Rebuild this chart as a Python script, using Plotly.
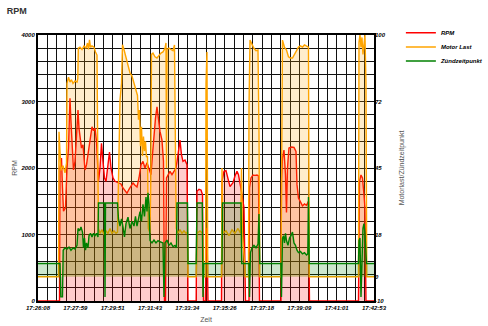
import plotly.graph_objects as go

# ---- tick labels ----
x_tick_secs = [0, 111.6, 223.2, 334.8, 446.4, 558.0, 669.6, 781.2, 892.8, 1004.4]
x_tick_text = ["17:26:08", "17:27:59", "17:29:51", "17:31:43", "17:33:34",
               "17:35:26", "17:37:18", "17:39:09", "17:41:01", "17:42:53"]
rpm_ticks = [0, 1000, 2000, 3000, 4000]
right_tick_vals = [-10, 0, 17.5, 45, 72.5, 100]
right_tick_text = ["-10", "0", "18", "45", "72", "100"]

# ---- RPM (seconds since 17:26:08, rpm) ----
t_rpm = [0, 64.3, 65.8, 70.2, 73.2, 76.2, 82.2, 86.7, 91.2, 95.6, 98.6, 101.6, 106.1, 110.6,
         115.1, 119.6, 122.5, 125.5, 130.0, 134.5, 137.5, 140.5, 145.0, 149.5, 155.4, 161.4,
         165.9, 170.4, 174.9, 177.8, 180.8, 185.3, 189.8, 194.3, 198.8, 203.3, 209.2, 213.7,
         218.2, 224.2, 230.2, 236.1, 242.1, 248.1, 254.1, 260.0, 266.0, 272.0, 278.0, 284.0,
         289.9, 295.9, 301.9, 307.9, 313.8, 319.8, 325.8, 331.8, 337.8, 342.2, 346.7, 351.2,
         355.7, 360.2, 364.7, 370.6, 375.1, 378.1, 381.1, 384.1, 388.6, 394.5, 400.5, 406.5,
         412.5, 418.5, 424.4, 428.9, 433.4, 439.4, 445.4, 448.4, 472.8, 475.3, 481.2, 487.2,
         491.7, 494.7, 500.7, 502.2, 505.1, 508.1, 548.5, 550.0, 556.0, 562.0, 567.9, 573.9,
         578.4, 582.9, 588.8, 594.8, 599.3, 603.8, 609.8, 615.8, 620.2, 630.7, 632.2, 636.7,
         642.6, 648.6, 654.6, 659.1, 662.1, 726.3, 727.8, 730.8, 735.3, 739.8, 742.8, 745.8,
         750.2, 757.7, 765.2, 771.2, 774.2, 778.6, 784.6, 790.6, 796.6, 802.6, 808.5, 811.5,
         958.0, 961.0, 965.5, 970.0, 974.4, 977.4, 980.4, 1004.4]
rpm = [0, 0, 2000, 2150, 1700, 1350, 1400, 2000, 2300, 3050, 2700, 2400, 1970, 2100,
       2500, 2870, 2600, 2450, 2300, 2350, 2100, 1970, 2050, 2200, 2450, 2620,
       2560, 2600, 2400, 2100, 1800, 2000, 2370, 2100, 1850, 1800, 2100, 2240,
       2000, 1850, 1800, 1790, 1780, 1760, 1700, 1650, 1620, 1680, 1740, 1775,
       1740, 1715, 1850, 2050, 2100, 2000, 2080, 2000, 1900, 2200, 2500, 2750,
       2920, 2750, 2550, 2420, 2100, 0, 0, 1850, 1900, 1950, 1900, 1950,
       2000, 2200, 2420, 2200, 2100, 2120, 2050, 0, 0, 1650, 1680, 1670,
       1600, 0, 0, 900, 1100, 0, 0, 1800, 1950, 1960, 1850, 1720,
       1750, 1780, 1880, 1950, 1900, 1780, 1600, 1400, 0, 0, 1700, 1850,
       1895, 1890, 1895, 1880, 0, 0, 1800, 2150, 2270, 1900, 1330, 2000,
       2300, 2316, 2310, 2250, 1750, 1550, 1480, 1430, 1460, 1440, 1500, 0,
       0, 1800, 1895, 1850, 1600, 1400, 0, 0]

# ---- Motor Last (%) ----
t_load = [0, 61.3, 62.8, 65.8, 68.7, 74.7, 80.7, 85.2, 86.7, 91.2, 95.6, 100.1, 104.6, 110.6,
          116.6, 119.0, 120.5, 125.5, 131.5, 137.5, 143.5, 148.0, 150.9, 153.9, 156.9, 161.4,
          167.4, 171.9, 176.4, 178.7, 180.8, 185.3, 191.3, 197.3, 203.3, 209.2, 215.2, 221.2,
          227.2, 233.1, 237.6, 240.6, 245.1, 249.6, 252.6, 257.0, 263.0, 269.0, 275.0, 281.0,
          286.9, 292.9, 297.4, 300.4, 303.4, 306.4, 309.4, 312.3, 315.3, 318.3, 321.3, 324.3,
          327.3, 329.7, 334.8, 337.2, 339.2, 343.7, 349.7, 355.7, 361.7, 367.6, 373.6, 379.6,
          382.6, 384.1, 385.6, 391.5, 397.5, 403.5, 408.0, 411.0, 413.1, 418.5, 424.4, 430.4,
          436.4, 442.4, 446.9, 448.4, 472.8, 475.3, 484.2, 491.7, 494.7, 500.7, 502.2, 505.1,
          507.5, 548.5, 550.0, 553.0, 562.0, 570.9, 579.9, 588.8, 597.8, 605.3, 608.3, 611.3,
          620.2, 629.2, 630.7, 633.7, 639.6, 645.6, 651.6, 657.6, 660.6, 663.0, 726.3, 727.8,
          730.8, 736.8, 742.8, 748.7, 754.7, 760.7, 766.7, 772.6, 778.6, 784.6, 790.6, 796.6,
          802.6, 808.5, 810.9, 958.0, 959.5, 962.5, 965.5, 968.4, 971.4, 974.4, 977.4, 980.4,
          982.8, 1004.4]
load = [0, 0, 60, 48, 44, 46, 43, 47, 80, 82.6, 80.5, 81.5, 80, 81,
        80.5, 82, 94.6, 95, 94, 95.5, 94.5, 96.7, 94, 98, 95, 95.5,
        95, 93, 91.7, 50, 20, 18, 19.5, 17.5, 19, 18, 20, 18,
        19, 18, 18.5, 40, 73, 80, 96, 94, 91, 88, 84.3, 83,
        80, 77, 75, 65, 69, 54, 62, 50, 58, 52, 56, 49.5,
        50, 20, 18, 40, 92, 92.5, 91, 90.5, 91.5, 92.5, 93, 94.5,
        96.7, 45, 94, 94.6, 94, 93.5, 95.9, 60, 20, 18, 19.5, 18,
        19, 18, 18.5, 0, 0, 18, 19, 18, 0, 0, 80, 93,
        0, 0, 45, 18, 19, 17, 19.5, 18, 20, 18, 45, 18,
        0, 0, 70, 97.9, 96, 94.5, 93.5, 93.8, 60, 0, 0, 64.8,
        97.9, 95, 93.8, 91, 90.5, 90.5, 92, 94, 95, 95.5, 95, 95.9,
        95.5, 95, 0, 0, 97, 100, 95, 99, 92, 96, 100, 80,
        0, 0]

# ---- Zündzeitpunkt ----
t_ign = [0, 65.8, 68.2, 73.2, 75.3, 80.7, 86.7, 92.7, 98.6, 104.6, 110.6, 116.6, 119.6, 124.0,
         128.5, 133.0, 136.0, 139.0, 142.0, 145.0, 149.5, 152.4, 156.9, 161.4, 165.9, 170.4,
         174.9, 179.3, 180.8, 198.8, 200.3, 201.8, 237.6, 240.6, 245.1, 249.6, 254.1, 258.5,
         263.0, 269.0, 275.0, 281.0, 286.9, 291.4, 295.9, 300.4, 304.9, 309.4, 313.8, 318.3,
         322.8, 325.8, 328.8, 331.8, 334.8, 340.7, 346.7, 352.7, 358.7, 364.7, 373.6, 376.6,
         379.6, 385.6, 391.5, 397.5, 403.5, 409.5, 414.0, 415.5, 446.9, 448.4, 472.8, 475.3,
         491.1, 493.2, 495.6, 550.0, 551.5, 606.8, 609.0, 630.7, 632.2, 635.2, 639.6, 645.6,
         651.6, 657.6, 660.6, 663.0, 726.3, 727.8, 730.8, 733.8, 736.8, 739.8, 742.8, 747.2,
         751.7, 756.2, 760.7, 765.2, 769.7, 774.2, 778.6, 784.6, 790.6, 796.6, 802.6, 806.5,
         808.5, 810.9, 958.0, 959.5, 962.5, 965.5, 968.4, 971.4, 974.4, 977.4, 981.9, 1004.4]
ign = [5.5, 5.5, -8.3, -8.3, 11, 12, 11.5, 12.3, 11, 12, 11.5, 13, 20, 19,
       20.6, 18.5, 12, 16, 11, 14, 12, 17, 18, 16.5, 18, 17,
       18, 16.5, 30.5, 30.5, -8.3, 30.5, 30.5, 24, 21, 24, 20.6, 16.5,
       22, 24.7, 20, 23, 21, 25, 21, 24, 27, 23, 30, 25,
       33, 27, 34.7, 30, 15, 14, 15.2, 14, 15, 14.5, 14, -8.3,
       14, 15.2, 13, 14, 12.5, 13, 12, 30.5, 30.5, 5.5, 5.5, 30.5,
       30.5, -8.3, 5.5, 5.5, 30.5, 30.5, 5.5, 5.5, -8.3, 10, 12, 13,
       12, 13.5, 26, 5.5, 5.5, -8.3, 16, 17, 14, 18, 15, 13,
       16, 17, 18.5, 14, 13, 11, 10, 10.5, 9.5, 10, 9, 9.5,
       33, 5.5, 5.5, 15, 16, -8.3, 14, 20, 22, 18, 5.5, 5.5]

series_names = ["RPM", "Motor Last", "Zündzeitpunkt"]
series_colors = ["#ff0000", "#ffa500", "#008000"]
fill_colors = ["rgba(255,0,0,0.2)", "rgba(255,165,0,0.2)", "rgba(0,128,0,0.2)"]

tick_font = dict(family="Liberation Sans, Arial", size=6,
                 color="black", weight="bold", style="italic")
title_font = dict(family="Liberation Sans, Arial", size=7, color="#555")
legend_font = dict(family="Liberation Sans, Arial", size=6,
                   color="black", weight="bold", style="italic")
GRID = "#111111"

fig = go.Figure()
data = [(t_rpm, rpm, "y"), (t_load, load, "y2"), (t_ign, ign, "y2")]
for (tx, vy, ax), nm, col, fc in zip(data, series_names, series_colors, fill_colors):
    fig.add_trace(go.Scatter(x=tx, y=vy, name=nm, mode="lines", showlegend=False,
                             line=dict(color=col, width=1.4),
                             fill="tozeroy", fillcolor=fc, yaxis=ax))
# legend entries (line only), one small legend per series for tight spacing
legend_ids = ["legend", "legend2", "legend3"]
for nm, col, lid in zip(series_names, series_colors, legend_ids):
    fig.add_trace(go.Scatter(x=[None], y=[None], name=nm, mode="lines",
                             line=dict(color=col, width=1.5), showlegend=True, legend=lid))

legend_rows_y = [1.008, 0.955, 0.902]
legend_common = dict(x=1.08, xanchor="left", yanchor="middle", bgcolor="rgba(0,0,0,0)",
                     borderwidth=0, font=legend_font, itemwidth=30)

fig.update_layout(
    width=488, height=326,
    margin=dict(l=38, r=114, t=35, b=25, autoexpand=False),
    paper_bgcolor="white", plot_bgcolor="white",
    title=dict(text="RPM", x=0.014, xref="container", y=0.966, yref="container",
               xanchor="left", yanchor="middle",
               font=dict(family="Liberation Sans, Arial", size=9, color="#333", weight="bold")),
    xaxis=dict(range=[0, 1004.4], tickmode="array", tickvals=x_tick_secs, ticktext=x_tick_text,
               showgrid=True, gridcolor=GRID, gridwidth=1.4, zeroline=False, automargin=False,
               minor=dict(tickmode="linear", tick0=0, dtick=27.9, showgrid=True,
                          gridcolor=GRID, gridwidth=1.4),
               showline=True, linecolor="black", linewidth=2, mirror=True,
               ticks="", tickfont=tick_font,
               title=dict(text="Zeit", font=title_font, standoff=7)),
    yaxis=dict(range=[0, 4000], tickmode="array", tickvals=rpm_ticks,
               showgrid=True, gridcolor=GRID, gridwidth=1.4, zeroline=False, automargin=False,
               minor=dict(tickmode="linear", tick0=0, dtick=200, showgrid=True,
                          gridcolor=GRID, gridwidth=1.4),
               showline=True, linecolor="black", linewidth=2, mirror=True,
               ticks="", tickfont=tick_font,
               title=dict(text="RPM", font=title_font, standoff=2)),
    yaxis2=dict(range=[-10, 100], overlaying="y", side="right", tickmode="array",
                tickvals=right_tick_vals, ticktext=right_tick_text, automargin=False,
                showgrid=False, zeroline=False, ticks="", tickfont=tick_font,
                title=dict(text="Motorlast/Zündzeitpunkt", font=title_font, standoff=14)),
    legend=dict(y=legend_rows_y[0], **legend_common),
    legend2=dict(y=legend_rows_y[1], **legend_common),
    legend3=dict(y=legend_rows_y[2], **legend_common),
    showlegend=True,
)

fig.write_html("out.html", config={"displayModeBar": False},
               post_script="document.body.style.margin='0';"
               "document.body.style.padding='0';document.body.style.overflow='hidden';")
